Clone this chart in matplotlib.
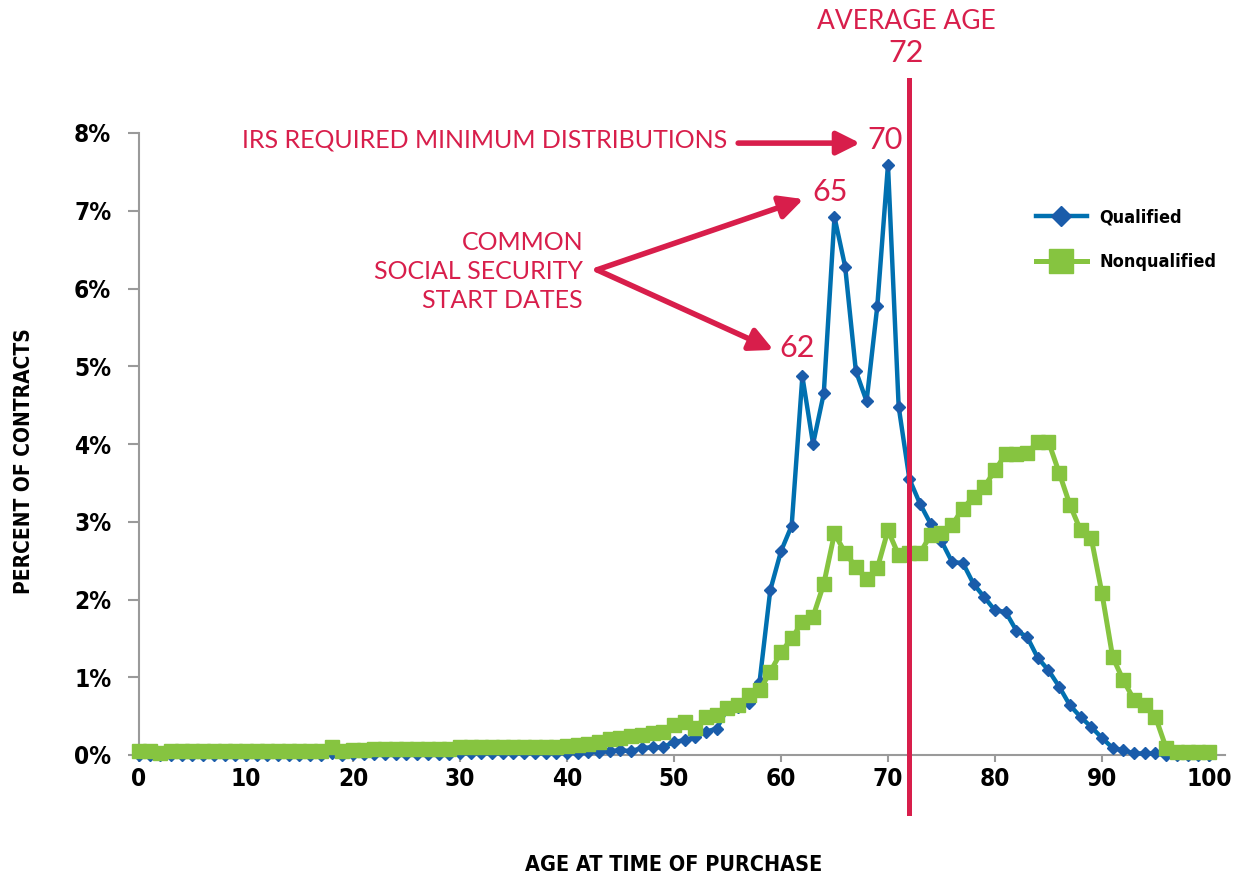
import matplotlib
matplotlib.use("Agg")
import matplotlib.pyplot as plt

# age 0..100
ages = list(range(0, 101))

qualified = [
    0.0, 0.0, 0.0, 0.0, 0.0, 0.0, 0.0, 0.0, 0.0, 0.0,          # 0-9
    0.0, 0.0, 0.0, 0.0, 0.0, 0.0, 0.0, 0.0, 0.02, 0.0,         # 10-19
    0.01, 0.01, 0.01, 0.01, 0.01, 0.01, 0.01, 0.01, 0.01, 0.01,  # 20-29
    0.02, 0.02, 0.02, 0.02, 0.02, 0.02, 0.02, 0.02, 0.02, 0.02,  # 30-39
    0.03, 0.03, 0.04, 0.04, 0.05, 0.06, 0.05, 0.09, 0.10, 0.10,  # 40-49
    0.17, 0.19, 0.23, 0.30, 0.34, 0.60, 0.62, 0.67, 0.94, 2.12,  # 50-59
    2.62, 2.95, 4.87, 4.00, 4.65, 6.92, 6.28, 4.94, 4.55, 5.77,  # 60-69
    7.59, 4.48, 3.55, 3.23, 2.97, 2.75, 2.48, 2.47, 2.20, 2.03,  # 70-79
    1.86, 1.84, 1.60, 1.52, 1.25, 1.09, 0.88, 0.64, 0.49, 0.36,  # 80-89
    0.22, 0.09, 0.06, 0.02, 0.02, 0.02, 0.0, 0.0, 0.0, 0.0,      # 90-99
    0.0,                                                         # 100
]

nonqualified = [
    0.05, 0.05, 0.03, 0.05, 0.05, 0.05, 0.05, 0.05, 0.05, 0.05,  # 0-9
    0.05, 0.05, 0.05, 0.05, 0.05, 0.05, 0.05, 0.05, 0.10, 0.05,  # 10-19
    0.06, 0.07, 0.08, 0.08, 0.08, 0.08, 0.08, 0.08, 0.08, 0.08,  # 20-29
    0.10, 0.10, 0.10, 0.10, 0.10, 0.10, 0.10, 0.10, 0.10, 0.10,  # 30-39
    0.12, 0.13, 0.14, 0.17, 0.20, 0.22, 0.24, 0.26, 0.28, 0.30,  # 40-49
    0.38, 0.43, 0.35, 0.49, 0.51, 0.60, 0.64, 0.77, 0.83, 1.07,  # 50-59
    1.32, 1.50, 1.71, 1.78, 2.20, 2.85, 2.60, 2.42, 2.26, 2.40,  # 60-69
    2.89, 2.57, 2.60, 2.60, 2.83, 2.86, 2.96, 3.17, 3.32, 3.45,  # 70-79
    3.66, 3.87, 3.87, 3.88, 4.03, 4.03, 3.63, 3.22, 2.89, 2.79,  # 80-89
    2.08, 1.26, 0.96, 0.71, 0.64, 0.49, 0.09, 0.04, 0.04, 0.04,  # 90-99
    0.04,                                                        # 100
]

yticks = [0, 1, 2, 3, 4, 5, 6, 7, 8]
xticks = [0, 10, 20, 30, 40, 50, 60, 70, 80, 90, 100]
average_age = 72

blue = '#0070b0'
blue_mk = '#1a5caa'
green = '#86c440'
red = '#d81e4b'
axis_grey = '#9a9a9a'

# condensed bold for axes, lighter face for the callouts
bold_kw = dict(family='DejaVu Sans', stretch='condensed', weight='bold')
thin_kw = dict(family=['Lato', 'DejaVu Sans'], weight='normal')

fig = plt.figure(figsize=(12.33, 8.85), dpi=100)
ax = fig.add_axes([139 / 1233, 130 / 885, 1086 / 1233, 622 / 885])

ax.plot(ages, qualified, color=blue, lw=3.2, marker='D', ms=6.2,
        mfc=blue_mk, mec=blue_mk, label='Qualified', clip_on=False, zorder=3)
ax.plot(ages, nonqualified, color=green, lw=3.6, marker='s', ms=10.5,
        mfc=green, mec=green, label='Nonqualified', clip_on=False, zorder=4)

ax.set_xlim(0, 101.5)
ax.set_ylim(0, 8)
ax.set_xticks(xticks)
ax.set_yticks(yticks)
ax.set_yticklabels([f'{v}%' for v in yticks])

for s in ['top', 'right']:
    ax.spines[s].set_visible(False)
for s in ['left', 'bottom']:
    ax.spines[s].set_color(axis_grey)
    ax.spines[s].set_linewidth(1.5)
ax.tick_params(axis='y', direction='out', length=8, width=1.5, color=axis_grey, pad=12)
ax.tick_params(axis='x', direction='out', length=5, width=1.5, color=axis_grey, pad=4)
for lbl in ax.get_xticklabels() + ax.get_yticklabels():
    lbl.set_family('DejaVu Sans')
    lbl.set_stretch('condensed')
    lbl.set_weight('bold')
    lbl.set_fontsize(17.5)

fig.text(674 / 1233, 1 - 865 / 885, 'AGE AT TIME OF PURCHASE', ha='center', va='center',
         fontsize=15.5, **bold_kw)
fig.text(24 / 1233, 1 - 461 / 885, 'PERCENT OF CONTRACTS', ha='center', va='center',
         rotation=90, fontsize=15, **bold_kw)

# average age line
ax.plot([average_age, average_age], [-0.75, 8.68], color=red, lw=3.6, clip_on=False, zorder=5)
ax.text(average_age - 0.3, 9.43, 'AVERAGE AGE', color=red, ha='center', va='center',
        fontsize=19, **thin_kw)
ax.text(average_age - 0.3, 9.03, str(average_age), color=red, ha='center', va='center',
        fontsize=22, **thin_kw)

arrow_kw = dict(arrowstyle='-|>,head_length=1.4,head_width=0.7', color=red, lw=4,
                shrinkA=0, shrinkB=0)

# IRS RMD
ax.text(54.95, 7.91, 'IRS REQUIRED MINIMUM DISTRIBUTIONS', color=red, ha='right',
        va='center', fontsize=18, **thin_kw)
ax.annotate('', xy=(67.4, 7.87), xytext=(56.0, 7.87), arrowprops=arrow_kw,
            annotation_clip=False)
ax.text(69.7, 7.91, '70', color=red, ha='center', va='center', fontsize=22, **thin_kw)

# social security
ax.text(41.5, 6.22, 'COMMON\nSOCIAL SECURITY\nSTART DATES', color=red, ha='right',
        va='center', multialignment='right', fontsize=18, linespacing=1.32, **thin_kw)
ax.annotate('', xy=(62.1, 7.15), xytext=(42.8, 6.24), arrowprops=arrow_kw,
            annotation_clip=False)
ax.annotate('', xy=(59.3, 5.21), xytext=(42.8, 6.24), arrowprops=arrow_kw,
            annotation_clip=False)
ax.text(64.6, 7.24, '65', color=red, ha='center', va='center', fontsize=22, **thin_kw)
ax.text(61.5, 5.23, '62', color=red, ha='center', va='center', fontsize=22, **thin_kw)

leg = ax.legend(loc='upper left', bbox_to_anchor=(1027 / 1233, 1 - 199 / 885),
                bbox_transform=fig.transFigure, frameon=False, borderpad=0,
                handlelength=2.8, handletextpad=0.7, labelspacing=1.5,
                markerscale=1.6,
                prop={'family': 'DejaVu Sans', 'stretch': 'condensed',
                      'weight': 'bold', 'size': 13})

fig.savefig('out.png', dpi=100)
